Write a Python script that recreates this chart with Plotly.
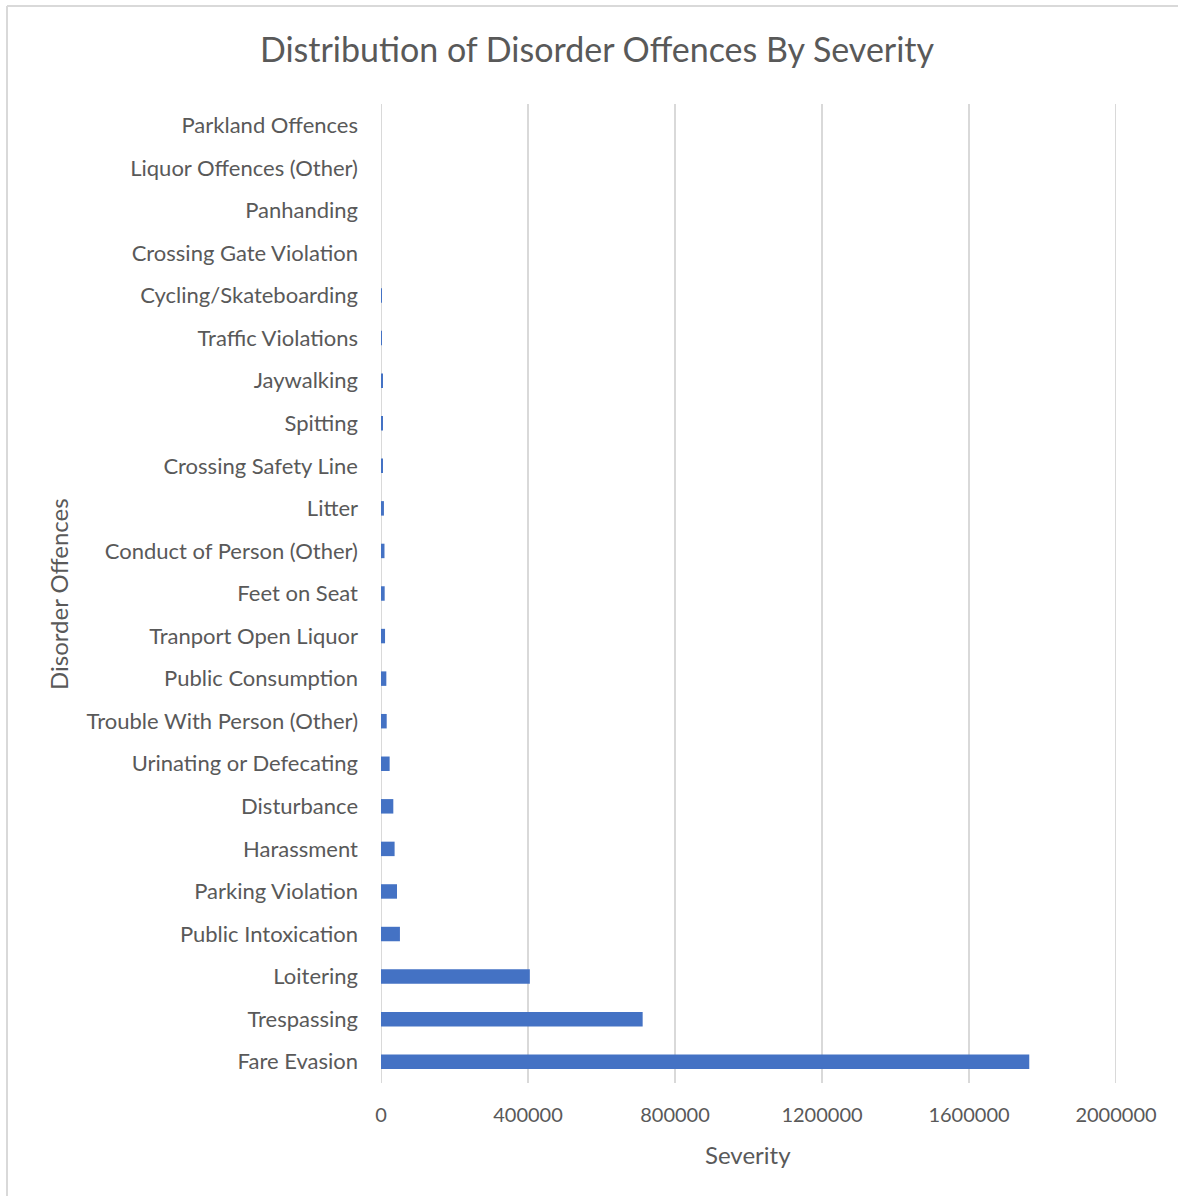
import plotly.graph_objects as go

# Offence categories, top to bottom as listed on the axis
offences = [
    "Parkland Offences",
    "Liquor Offences (Other)",
    "Panhanding",
    "Crossing Gate Violation",
    "Cycling/Skateboarding",
    "Traffic Violations",
    "Jaywalking",
    "Spitting",
    "Crossing Safety Line",
    "Litter",
    "Conduct of Person (Other)",
    "Feet on Seat",
    "Tranport Open Liquor",
    "Public Consumption",
    "Trouble With Person (Other)",
    "Urinating or Defecating",
    "Disturbance",
    "Harassment",
    "Parking Violation",
    "Public Intoxication",
    "Loitering",
    "Trespassing",
    "Fare Evasion",
]

severity = [
    0, 0, 0, 0, 2000, 2500, 4000, 4500, 5000, 8000,
    9500, 10000, 11000, 14500, 15500, 23500, 33500, 37000,
    43500, 51500, 405000, 712000, 1764000,
]

x_ticks = [0, 400000, 800000, 1200000, 1600000, 2000000]

FONT = "Lato"
TEXT = "#595959"
GRID = "#D9D9D9"

W, H = 1178, 1196
ML, MR, MT, MB = 381, 62, 104, 113
PW, PH = W - ML - MR, H - MT - MB


def px_x(x):
    """Pixel x -> paper fraction."""
    return (x - ML) / PW


def px_y(y):
    """Pixel y (from top) -> paper fraction."""
    return 1 - (y - MT) / PH


fig = go.Figure(
    go.Bar(
        x=severity,
        y=offences,
        orientation="h",
        marker=dict(color="#4472C4", line=dict(width=0)),
        width=0.34,
    )
)

fig.update_layout(
    width=W,
    height=H,
    margin=dict(l=ML, r=MR, t=MT, b=MB),
    paper_bgcolor="white",
    plot_bgcolor="white",
    showlegend=False,
    font=dict(family=FONT, color=TEXT, size=20),
    title=dict(
        text="Distribution of Disorder Offences By Severity",
        x=597 / W,
        xanchor="center",
        y=1 - 50 / H,
        yanchor="middle",
        font=dict(family=FONT, size=34, color=TEXT),
    ),
)

fig.update_xaxes(
    range=[0, 2000000],
    tickvals=x_ticks,
    ticktext=[str(v) for v in x_ticks],
    showgrid=True,
    gridcolor=GRID,
    gridwidth=2,
    zeroline=False,
    showline=False,
    ticks="",
    ticklabelstandoff=18,
    tickfont=dict(family=FONT, size=20, color=TEXT),
)

fig.update_yaxes(
    categoryorder="array",
    categoryarray=offences,
    autorange="reversed",
    showgrid=False,
    zeroline=False,
    ticks="",
    ticklabelstandoff=22,
    tickfont=dict(family=FONT, size=22, color=TEXT),
)

# axis titles
fig.add_annotation(
    text="Severity", xref="paper", yref="paper",
    x=px_x(748), y=px_y(1154), xanchor="center", yanchor="middle",
    showarrow=False, font=dict(family=FONT, size=24, color=TEXT),
)
fig.add_annotation(
    text="Disorder Offences", xref="paper", yref="paper",
    x=px_x(58), y=px_y(594), xanchor="center", yanchor="middle",
    textangle=-90, showarrow=False, font=dict(family=FONT, size=24, color=TEXT),
)

# vertical lines at both ends of the value axis (zero axis and last gridline)
for xv in (x_ticks[0], x_ticks[-1]):
    fig.add_shape(
        type="line", xref="x", yref="paper", x0=xv, x1=xv, y0=0, y1=1,
        line=dict(color=GRID, width=2), layer="below",
    )

# chart frame (left and top edges)
fig.add_shape(
    type="line", xref="paper", yref="paper",
    x0=px_x(7), x1=px_x(7), y0=px_y(H + 5), y1=px_y(6),
    line=dict(color=GRID, width=2),
)
fig.add_shape(
    type="line", xref="paper", yref="paper",
    x0=px_x(7), x1=px_x(W + 5), y0=px_y(6), y1=px_y(6),
    line=dict(color=GRID, width=2),
)

fig.write_html("out.html")
